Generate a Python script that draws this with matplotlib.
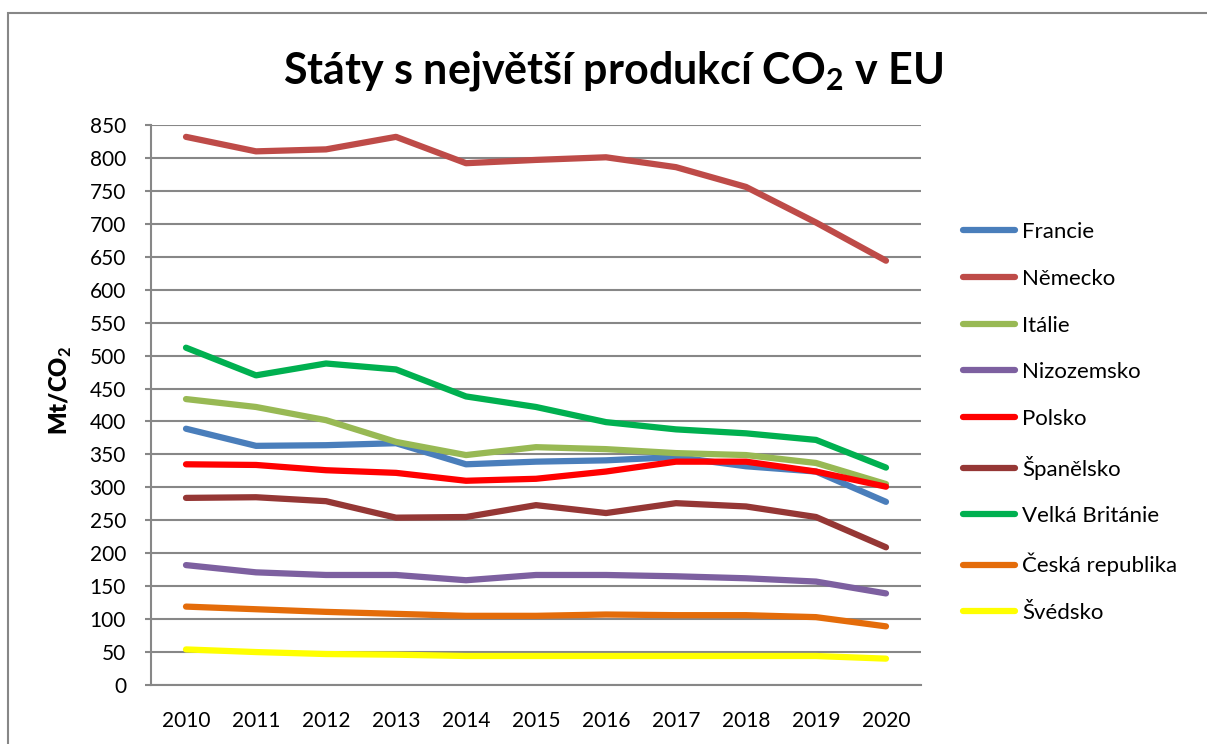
import matplotlib
matplotlib.use("Agg")
import matplotlib.pyplot as plt
from matplotlib.patches import Rectangle

plt.rcParams['font.family'] = ['Lato', 'DejaVu Sans']
plt.rcParams['mathtext.fontset'] = 'custom'
plt.rcParams['mathtext.rm'] = 'Lato'
plt.rcParams['mathtext.bf'] = 'Lato:bold'

# data (Mt CO2)
years = [2010, 2011, 2012, 2013, 2014, 2015, 2016, 2017, 2018, 2019, 2020]
francie = [389, 363, 364, 367, 335, 339, 341, 346, 332, 324, 278]
nemecko = [832, 810, 813, 832, 792, 797, 801, 786, 756, 702, 644]
italie = [434, 422, 402, 369, 349, 361, 358, 352, 349, 337, 305]
nizozemsko = [182, 171, 167, 167, 159, 167, 167, 165, 162, 157, 139]
polsko = [335, 334, 326, 322, 310, 313, 324, 339, 339, 324, 301]
spanelsko = [284, 285, 279, 254, 255, 273, 261, 276, 271, 255, 209]
velka_britanie = [512, 470, 488, 479, 438, 422, 399, 388, 382, 372, 330]
cesko = [119, 115, 111, 108, 105, 105, 107, 106, 106, 103, 89]
svedsko = [54, 50, 47, 46, 44, 44, 44, 44, 44, 44, 40]

series = [
    ("Francie", francie, "#4A7EBB"),
    ("Německo", nemecko, "#BE4B48"),
    ("Itálie", italie, "#98B954"),
    ("Nizozemsko", nizozemsko, "#7D60A0"),
    ("Polsko", polsko, "#FF0000"),
    ("Španělsko", spanelsko, "#953735"),
    ("Velká Británie", velka_britanie, "#00B050"),
    ("Česká republika", cesko, "#E46C0A"),
    ("Švédsko", svedsko, "#FFFF00"),
]

fig = plt.figure(figsize=(12.07, 7.44), dpi=100)
ax = fig.add_axes([151 / 1207, 59 / 744, 770 / 1207, 560 / 744])

for name, vals, col in series:
    ax.plot(years, vals, color=col, lw=4.5, label=name, solid_capstyle='round',
            solid_joinstyle='round')

ax.set_xlim(2009.5, 2020.5)
ax.set_ylim(0, 850)
ax.set_yticks(range(0, 851, 50))
ax.set_xticks(years)
ax.grid(axis='y', color='#878787', lw=1.5)
ax.set_axisbelow(True)
for s in ['top', 'right']:
    ax.spines[s].set_visible(False)
for s in ['left', 'bottom']:
    ax.spines[s].set_color('#878787')
    ax.spines[s].set_linewidth(1.5)
ax.tick_params(axis='y', length=4, width=1.5, color='#878787', pad=14, labelsize=15)
ax.tick_params(axis='x', length=0, pad=19, labelsize=15)
ax.set_ylabel(r"Mt/CO$_\mathbf{2}$", fontsize=17, fontweight='heavy', va='center')
ax.yaxis.set_label_coords(-0.117, 0.525)

fig.text(0.508, 0.905, r"Státy s největší produkcí CO$_\mathbf{2}$ v EU",
         fontsize=31, fontweight='bold', ha='center', va='center')

fig.legend(loc='center left', bbox_to_anchor=(0.789, 0.432), frameon=False,
           fontsize=16, handlelength=2.3, handletextpad=0.35, labelspacing=1.2,
           borderpad=0)

# chart border
fig.patches.append(Rectangle((8 / 1207, -0.1), 1.2, 1.1 - 13 / 744,
                             transform=fig.transFigure, fill=False,
                             edgecolor='#878787', lw=1.5, clip_on=False))

fig.savefig("out.png", dpi=100)
